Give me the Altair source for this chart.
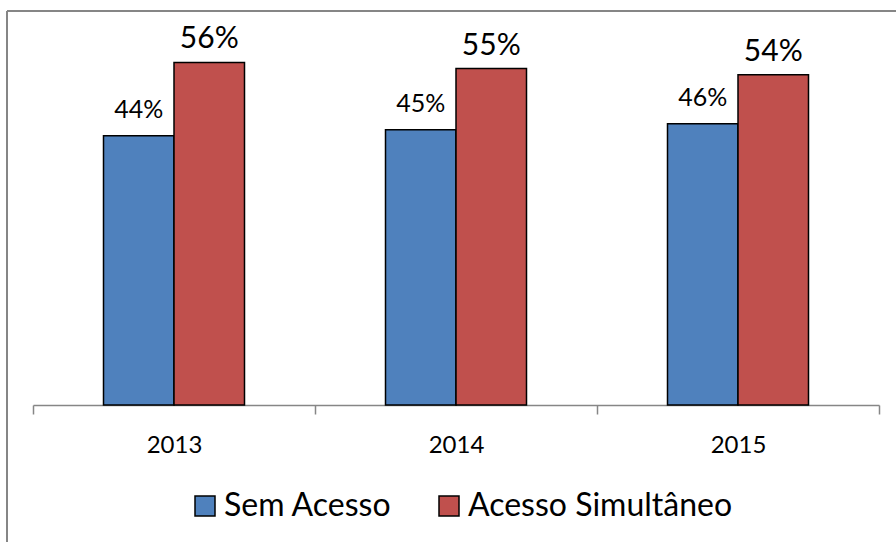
import altair as alt
import pandas as pd

# Share of households by access type, per year
years = ["2013", "2014", "2015"]
series = ["Sem Acesso", "Acesso Simultâneo"]
sem_acesso = [44, 45, 46]
acesso_simultaneo = [56, 55, 54]

colors = ["#4F81BD", "#C0504D"]
FONT = "Lato"
GRAY = "#868686"

rows = []
for i, y in enumerate(years):
    rows.append({"ano": y, "serie": series[0], "valor": sem_acesso[i]})
    rows.append({"ano": y, "serie": series[1], "valor": acesso_simultaneo[i]})
df = pd.DataFrame(rows)
df["rotulo"] = df["valor"].astype(str) + "%"

W, H = 846, 367

x_enc = alt.X(
    "ano:N",
    sort=years,
    title=None,
    scale=alt.Scale(paddingInner=0, paddingOuter=0),
    axis=alt.Axis(
        tickBand="extent",
        domainColor=GRAY,
        domainWidth=1.5,
        tickColor=GRAY,
        tickWidth=1.5,
        tickSize=9,
        labelAngle=0,
        labelFont=FONT,
        labelFontSize=24,
        labelColor="black",
        labelPadding=19,
        grid=False,
    ),
)
xoff_enc = alt.XOffset(
    "serie:N", sort=series, scale=alt.Scale(paddingInner=0, paddingOuter=1)
)
y_enc = alt.Y("valor:Q", scale=alt.Scale(domain=[0, 60]), axis=None)

base = alt.Chart(df)

bars = base.mark_bar(stroke="black", strokeWidth=1.5).encode(
    x=x_enc,
    xOffset=xoff_enc,
    y=y_enc,
    color=alt.Color(
        "serie:N",
        sort=series,
        scale=alt.Scale(domain=series, range=colors),
        legend=alt.Legend(
            title=None,
            orient="none",
            direction="horizontal",
            legendX=156,
            legendY=452,
            symbolType="square",
            symbolSize=400,
            symbolStrokeColor="black",
            symbolStrokeWidth=1.5,
            symbolOpacity=1,
            labelFont=FONT,
            labelFontSize=32,
            labelColor="black",
            labelOffset=3,
            labelLimit=500,
            columnPadding=41,
        ),
    ),
)

labels_blue = (
    base.transform_filter(alt.datum.serie == series[0])
    .mark_text(font=FONT, fontSize=25, color="black", baseline="alphabetic", dy=-18)
    .encode(x=x_enc, xOffset=xoff_enc, y=y_enc, text="rotulo:N")
)
labels_red = (
    base.transform_filter(alt.datum.serie == series[1])
    .mark_text(font=FONT, fontSize=30, color="black", baseline="alphabetic", dy=-14)
    .encode(x=x_enc, xOffset=xoff_enc, y=y_enc, text="rotulo:N")
)

# Outer frame of the chart (top and left edges)
frame_data = alt.Data(values=[{}])
frame_top = alt.Chart(frame_data).mark_rule(color=GRAY, strokeWidth=2).encode(
    x=alt.value(-26), x2=alt.value(W + 40), y=alt.value(-27)
)
frame_left = alt.Chart(frame_data).mark_rule(color=GRAY, strokeWidth=2).encode(
    x=alt.value(-26), y=alt.value(-27), y2=alt.value(H + 160)
)

chart = (
    alt.layer(frame_top, frame_left, bars, labels_blue, labels_red)
    .properties(
        width=W,
        height=H,
        padding={"left": 33, "top": 38, "right": 17, "bottom": 137},
        autosize=alt.AutoSizeParams(type="none"),
        background="white",
    )
    .configure_view(stroke=None)
)

chart.save("out.html", embed_options={"renderer": "svg", "actions": False})
